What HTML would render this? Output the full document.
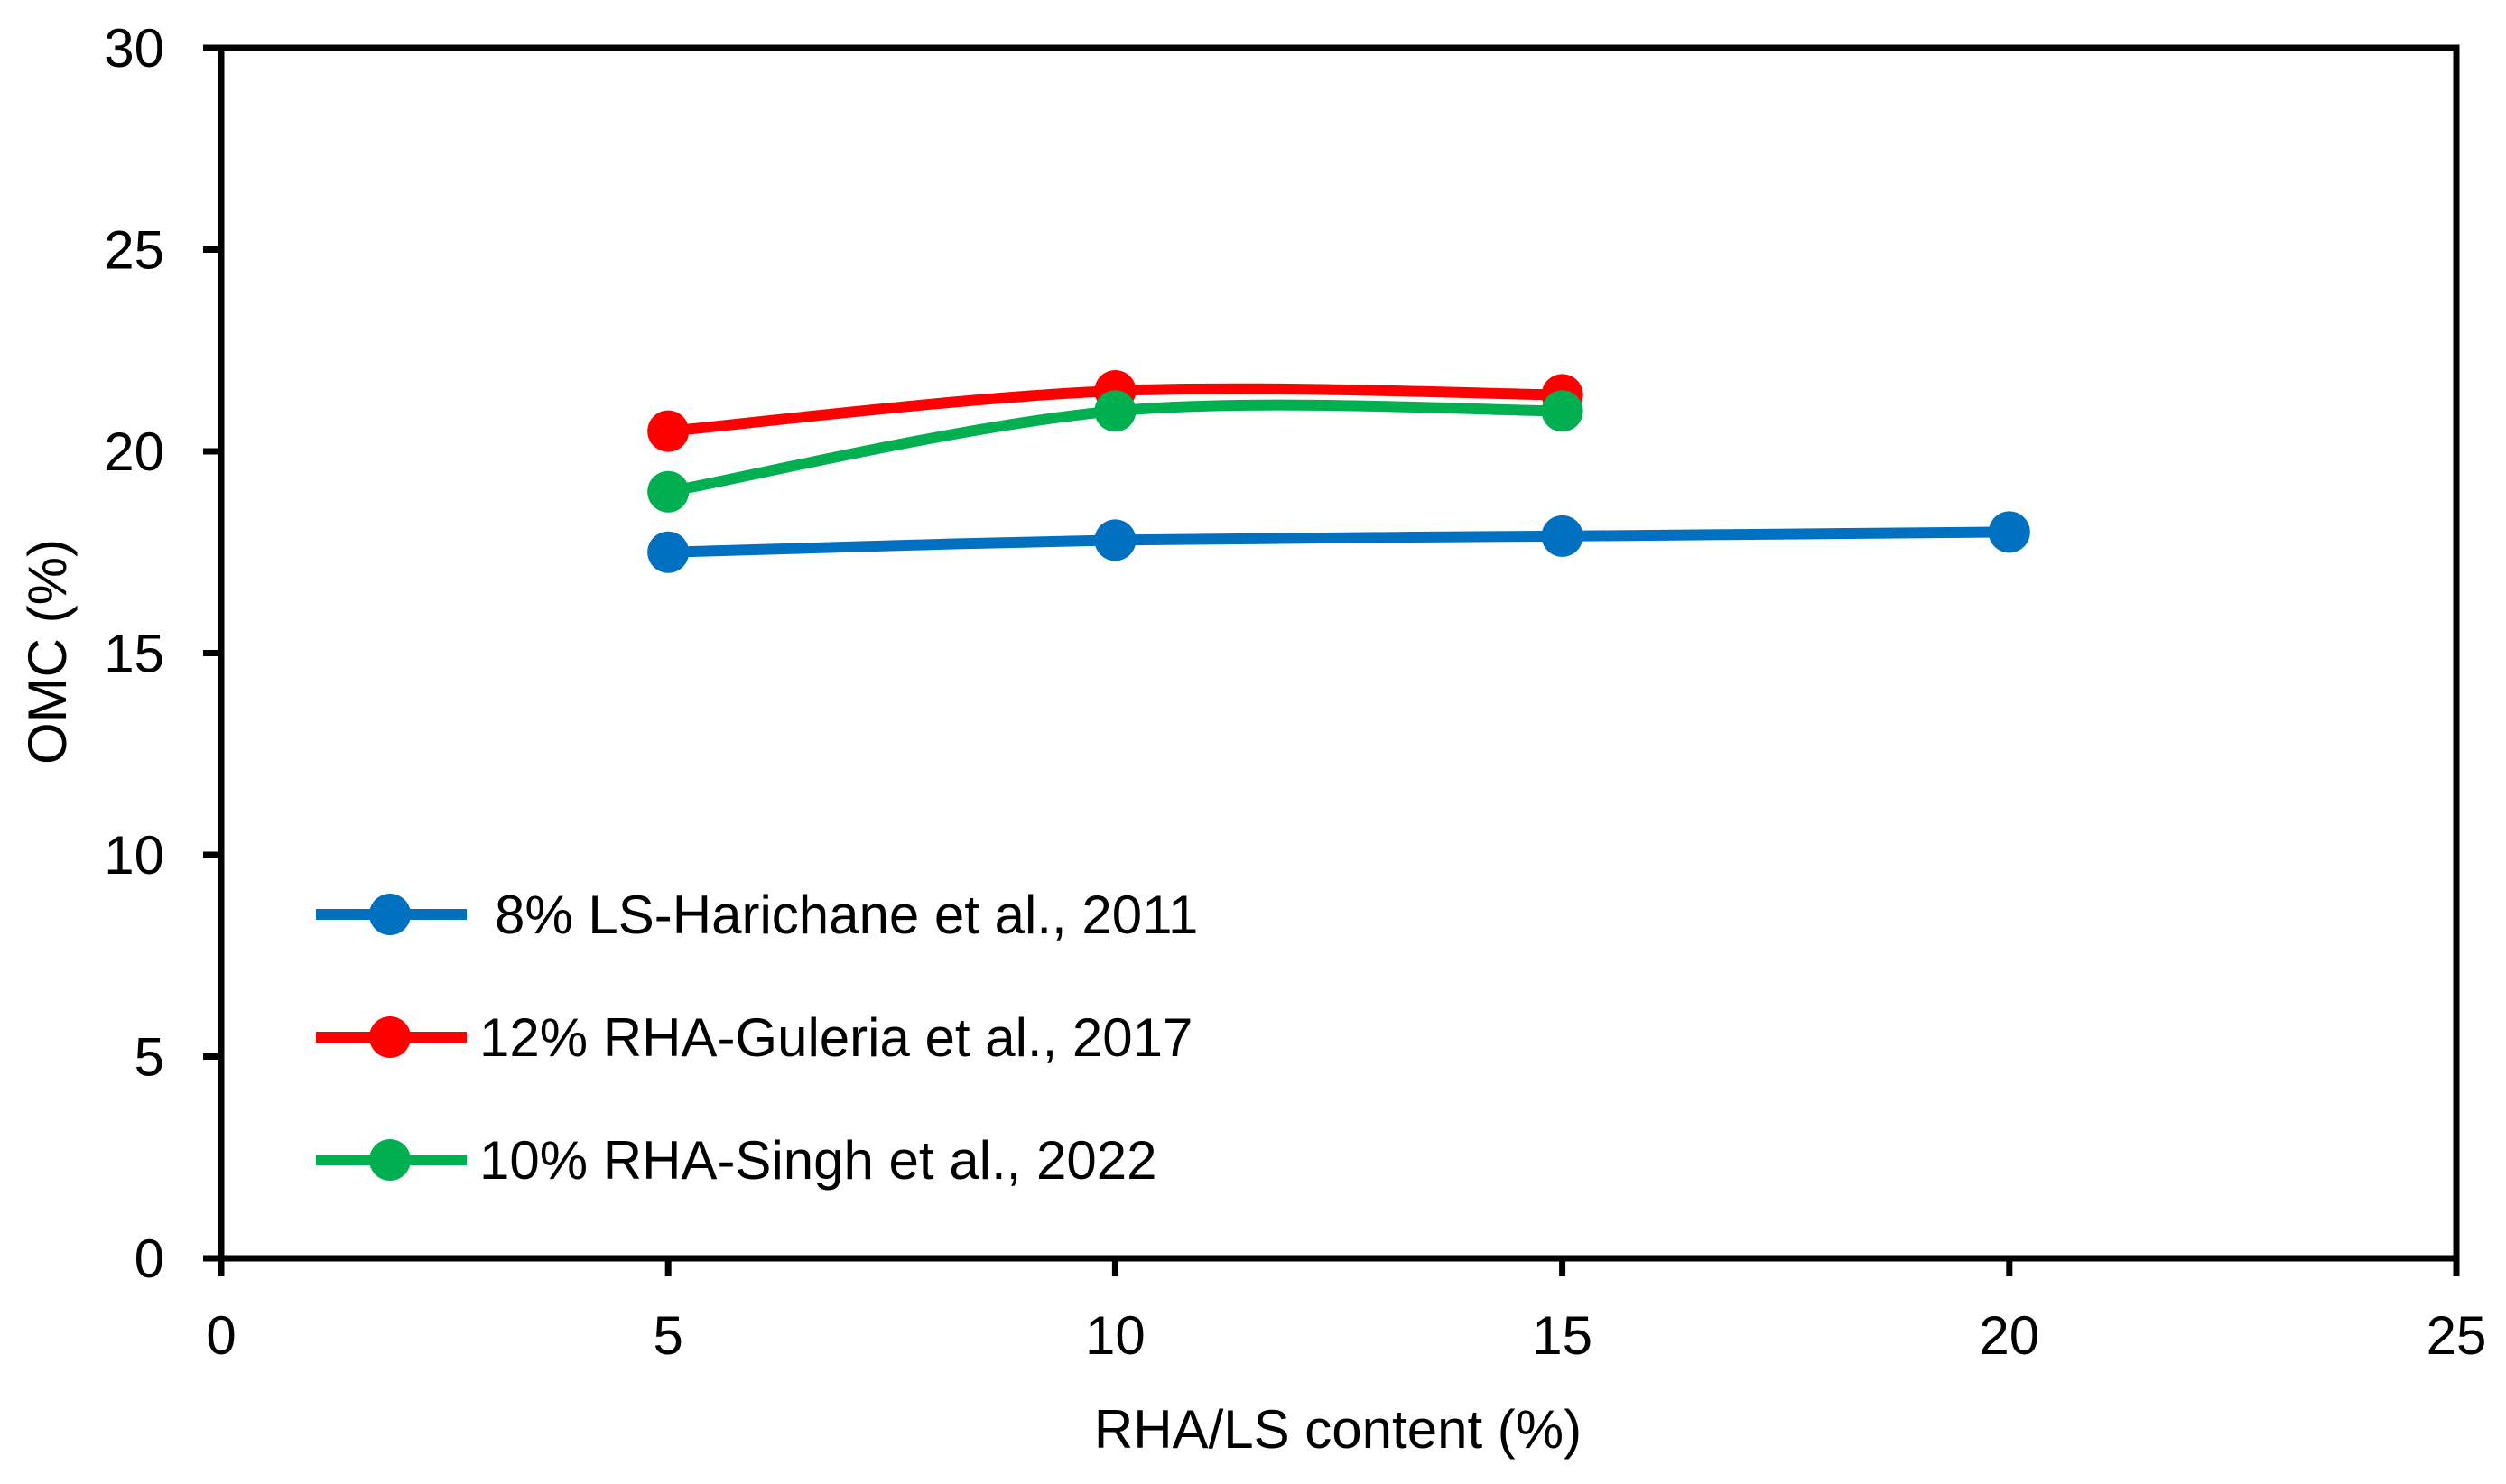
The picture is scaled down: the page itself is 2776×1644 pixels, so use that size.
<!DOCTYPE html>
<html><head><meta charset="utf-8"><style>
html,body{margin:0;padding:0;background:#fff;}
svg{display:block;font-family:"Liberation Sans",Calibri,sans-serif;}
</style></head><body>
<svg id="chart" width="2776" height="1644" viewBox="0 0 2776 1644" xmlns="http://www.w3.org/2000/svg">
<g id="axes"></g>
<g id="series"></g>
<g id="legend"></g>
</svg>
<script>
const xTicks=[0,5,10,15,20,25];
const yTicks=[0,5,10,15,20,25,30];
const xValues=[5,10,15,20];
const blueValues=[17.5,17.8,17.9,18.0];
const redValues=[20.5,21.5,21.4];
const greenValues=[19.0,21.0,21.0];
const seriesNames=["8% LS-Harichane et al., 2011","12% RHA-Guleria et al., 2017","10% RHA-Singh et al., 2022"];

const NS="http://www.w3.org/2000/svg";
const L=245,R=2721,T=53,B=1394;
const xS=v=>L+(v-0)/25*(R-L);
const yS=v=>B-(v-0)/30*(B-T);
function mk(tag,attrs,parent){const e=document.createElementNS(NS,tag);for(const k in attrs)e.setAttribute(k,attrs[k]);parent.appendChild(e);return e;}
const axes=document.getElementById('axes');
let fr=mk('rect',{x:L,y:T,width:R-L,height:B-T,fill:'none',stroke:'#000','stroke-width':7},axes);


yTicks.forEach(v=>{
  let t=mk('line',{x1:L-20,x2:L,y1:yS(v),y2:yS(v),stroke:'#000','stroke-width':7},axes);
  
  
  let tx=mk('text',{x:182,y:yS(v)+21,'text-anchor':'end','font-size':60},axes);
  tx.textContent=v;
  
  
});
xTicks.forEach(v=>{
  let t=mk('line',{x1:xS(v),x2:xS(v),y1:B,y2:B+20,stroke:'#000','stroke-width':7},axes);
  
  
  let tx=mk('text',{x:xS(v),y:1500,'text-anchor':'middle','font-size':60},axes);
  tx.textContent=v;
  
  
});
let xt=mk('text',{x:1482,y:1604,'text-anchor':'middle','font-size':60},axes);
xt.textContent='RHA/LS content (%)';


let yt=mk('text',{x:0,y:0,'text-anchor':'middle','font-size':60,transform:'translate(73,722) rotate(-90)'},axes);
yt.textContent='OMC (%)';



function smoothPath(pts){
  let d=`M${pts[0][0]},${pts[0][1]}`;
  for(let i=0;i<pts.length-1;i++){
    const p0=pts[i-1]||pts[i],p1=pts[i],p2=pts[i+1],p3=pts[i+2]||p2;
    const c1=[p1[0]+(p2[0]-p0[0])/6,p1[1]+(p2[1]-p0[1])/6];
    const c2=[p2[0]-(p3[0]-p1[0])/6,p2[1]-(p3[1]-p1[1])/6];
    d+=` C${c1[0]},${c1[1]} ${c2[0]},${c2[1]} ${p2[0]},${p2[1]}`;
  }
  return d;
}
const sg=document.getElementById('series');
const all=[[blueValues,'#0070C0','series-blue'],[redValues,'#FF0000','series-red'],[greenValues,'#00B050','series-green']];
all.forEach(([vals,col,name])=>{
  const g=mk('g',{},sg);
  
  
  const pts=vals.map((v,i)=>[xS(xValues[i]),yS(v)]);
  const p=mk('path',{d:smoothPath(pts),fill:'none',stroke:col,'stroke-width':12},g);
  
  
  pts.forEach(pt=>{
    const c=mk('circle',{cx:pt[0],cy:pt[1],r:23,fill:col},g);
    
    
  });
});
const lg=document.getElementById('legend');
const legY=[1013,1149,1285];
const legX=[548,531,531];
all.forEach(([vals,col],i)=>{
  const g=mk('g',{},lg);
  
  
  const l=mk('line',{x1:350,x2:517,y1:legY[i],y2:legY[i],stroke:col,'stroke-width':12},g);
  
  
  const c=mk('circle',{cx:432,cy:legY[i],r:23,fill:col},g);
  
  
  const t=mk('text',{x:legX[i],y:legY[i]+21,'font-size':60},g);
  t.textContent=seriesNames[i];
  
  
});
</script>
</body></html>
